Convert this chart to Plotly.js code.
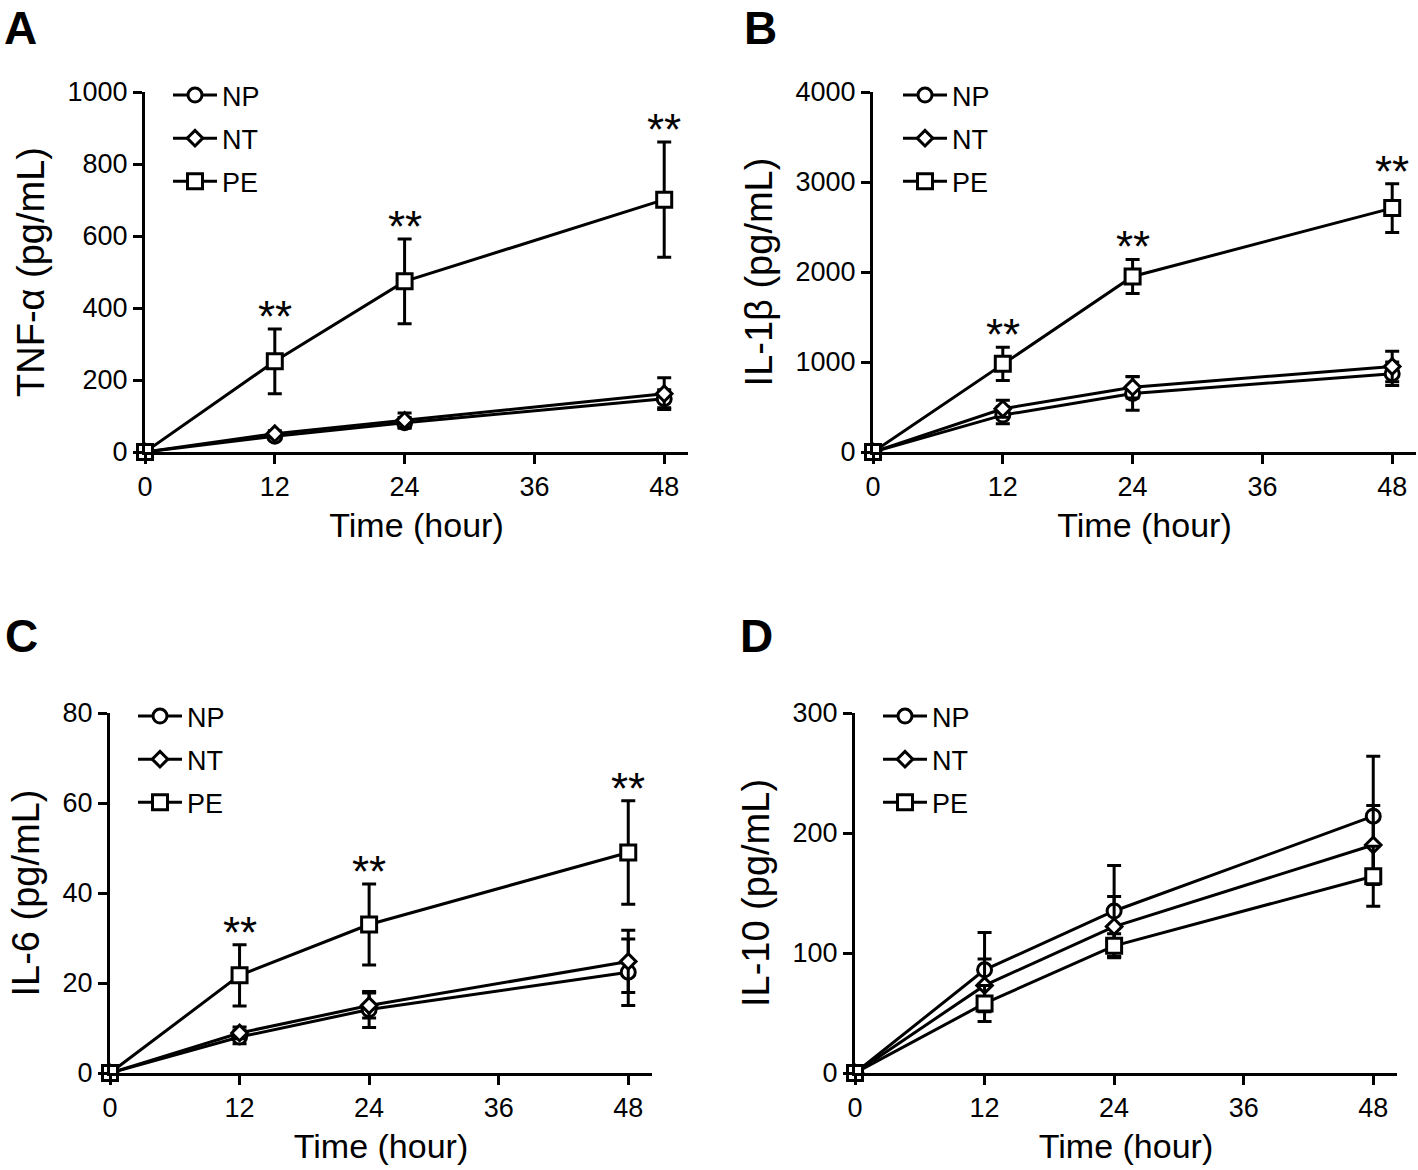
<!DOCTYPE html>
<html>
<head>
<meta charset="utf-8">
<script src="https://cdn.plot.ly/plotly-3.0.1.min.js"></script>
<style>html,body{margin:0;padding:0;background:#fff;}#chart{width:1418px;height:1170px;}</style>
</head>
<body>
<div id="chart"></div>
<script>
// ---- data ----
const hours = [0, 12, 24, 48];
const xTicks = [0, 12, 24, 36, 48];
const seriesNames = ['NP', 'NT', 'PE'];
const sigLabels = ['', '**', '**', '**'];

// A: TNF-alpha
const tnfNP = [0, 44, 81, 148];
const tnfNPerr = [0, 8, 15, 25];
const tnfNT = [0, 51, 88, 162];
const tnfNTerr = [0, 8, 20, 44];
const tnfPE = [0, 252, 474, 701];
const tnfPEerr = [0, 90, 118, 160];

// B: IL-1beta
const il1bNP = [0, 410, 650, 870];
const il1bNPerr = [0, 95, 185, 130];
const il1bNT = [0, 480, 720, 950];
const il1bNTerr = [0, 95, 120, 170];
const il1bPE = [0, 980, 1950, 2710];
const il1bPEerr = [0, 185, 190, 270];

// C: IL-6
const il6NP = [0, 8.0, 14.1, 22.4];
const il6NPerr = [0, 1.5, 4.0, 7.4];
const il6NT = [0, 8.9, 15.0, 24.8];
const il6NTerr = [0, 1.3, 2.8, 6.9];
const il6PE = [0, 21.7, 33.0, 49.0];
const il6PEerr = [0, 6.8, 9.0, 11.5];

// D: IL-10
const il10NP = [0, 86, 135, 214];
const il10NPerr = [0, 31, 38, 50];
const il10NT = [0, 73, 122, 190];
const il10NTerr = [0, 22, 25, 33];
const il10PE = [0, 58, 106, 164];
const il10PEerr = [0, 15, 10, 25];

// ---- styling ----
const FONT = 'Liberation Sans, Arial, Helvetica, sans-serif';
const W = 1418, H = 1170;
const symbols = {NP: 'circle', NT: 'diamond', PE: 'square'};
const sizes = {NP: 14, NT: 12, PE: 15};

const panels = [
  {key: 'A', ytitle: 'TNF-α (pg/mL)', ymax: 1000, dtick: 200,
   data: {NP: [tnfNP, tnfNPerr], NT: [tnfNT, tnfNTerr], PE: [tnfPE, tnfPEerr]}, sig: true,
   px: [145, 688], py: [92, 452], legend: [168, 71], letter: [2, 0]},
  {key: 'B', ytitle: 'IL-1β (pg/mL)', ymax: 4000, dtick: 1000,
   data: {NP: [il1bNP, il1bNPerr], NT: [il1bNT, il1bNTerr], PE: [il1bPE, il1bPEerr]}, sig: true,
   px: [873, 1416], py: [92, 452], legend: [898, 71], letter: [742, 0]},
  {key: 'C', ytitle: 'IL-6 (pg/mL)', ymax: 80, dtick: 20,
   data: {NP: [il6NP, il6NPerr], NT: [il6NT, il6NTerr], PE: [il6PE, il6PEerr]}, sig: true,
   px: [110, 652], py: [713, 1073], legend: [133, 692], letter: [3, 608]},
  {key: 'D', ytitle: 'IL-10 (pg/mL)', ymax: 300, dtick: 100,
   data: {NP: [il10NP, il10NPerr], NT: [il10NT, il10NTerr], PE: [il10PE, il10PEerr]}, sig: false,
   px: [855, 1397], py: [713, 1073], legend: [878, 692], letter: [738, 608]}
];

const traces = [];
const annotations = [];
const layout = {
  width: W, height: H,
  margin: {l: 0, r: 0, t: 0, b: 0},
  paper_bgcolor: '#fff', plot_bgcolor: '#fff',
  font: {family: FONT, color: '#000'},
  showlegend: true
};

panels.forEach((p, i) => {
  const n = i + 1;
  const sfx = n === 1 ? '' : String(n);
  const xa = 'xaxis' + sfx;
  const ya = 'yaxis' + sfx;
  const lg = 'legend' + sfx;
  const common = {
    showline: true, linewidth: 3, linecolor: '#000',
    ticks: 'outside', ticklen: 9, tickwidth: 3, tickcolor: '#000',
    showgrid: false, zeroline: false, automargin: false,
    tickfont: {family: FONT, size: 27, color: '#000'}, fixedrange: true
  };
  layout[xa] = Object.assign({}, common, {
    domain: [p.px[0] / W, p.px[1] / W],
    anchor: 'y' + sfx,
    range: [0, 50.2], tickvals: xTicks, ticktext: xTicks.map(String),
    title: {text: 'Time (hour)', font: {family: FONT, size: 34, color: '#000'}, standoff: 12}
  });
  layout[ya] = Object.assign({}, common, {
    domain: [1 - p.py[1] / H, 1 - p.py[0] / H],
    anchor: 'x' + sfx,
    range: [0, p.ymax], dtick: p.dtick, tick0: 0,
    title: {text: p.ytitle, font: {family: FONT, size: 38, color: '#000'}, standoff: 12}
  });
  layout[lg] = {
    x: p.legend[0] / W, y: 1 - p.legend[1] / H, xanchor: 'left', yanchor: 'top',
    xref: 'paper', yref: 'paper',
    bgcolor: 'rgba(0,0,0,0)', borderwidth: 0,
    font: {family: FONT, size: 27, color: '#000'},
    traceorder: 'grouped', tracegroupgap: 5, itemsizing: 'trace', itemwidth: 44
  };
  seriesNames.forEach(s => {
    const [y, e] = p.data[s];
    traces.push({
      type: 'scatter', mode: 'lines+markers', name: s,
      x: hours, y: y,
      xaxis: 'x' + sfx, yaxis: 'y' + sfx,
      legend: lg, legendgroup: p.key + s,
      cliponaxis: false,
      line: {color: '#000', width: 3},
      marker: {symbol: symbols[s], size: sizes[s], color: '#fff', line: {color: '#000', width: 3}},
      error_y: {type: 'data', array: e, visible: true, color: '#000', thickness: 3, width: 7}
    });
  });
  if (p.sig) {
    const [pe, pee] = p.data.PE;
    hours.forEach((h, k) => {
      if (!sigLabels[k]) return;
      annotations.push({
        xref: 'x' + sfx, yref: 'y' + sfx,
        x: h, y: pe[k] + pee[k], text: sigLabels[k], showarrow: false,
        yanchor: 'bottom', xanchor: 'center', yshift: -14,
        font: {family: FONT, size: 44, color: '#000'}
      });
    });
  }
  annotations.push({
    xref: 'paper', yref: 'paper', x: p.letter[0] / W, y: 1 - p.letter[1] / H,
    xanchor: 'left', yanchor: 'top', text: '<b>' + p.key + '</b>', showarrow: false,
    font: {family: FONT, size: 46, color: '#000'}
  });
});
layout.annotations = annotations;

Plotly.newPlot('chart', traces, layout, {displayModeBar: false, staticPlot: true});
</script>
</body>
</html>
